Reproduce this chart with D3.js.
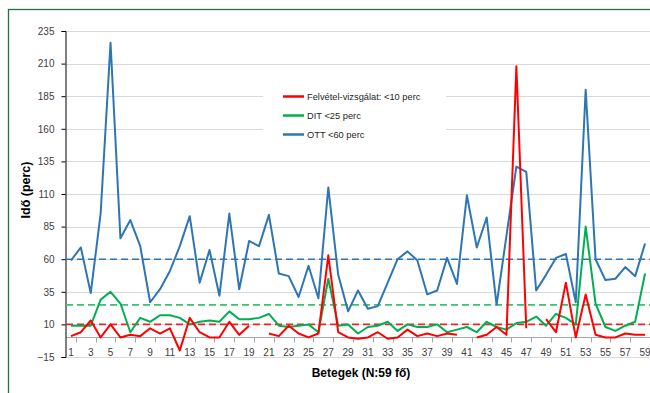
<!DOCTYPE html>
<html>
<head>
<meta charset="utf-8">
<script src="https://cdn.jsdelivr.net/npm/d3@7"></script>
<style>
  body { margin: 0; background: #fff; }
  svg text { font-family: "Liberation Sans", Arial, sans-serif; }
</style>
</head>
<body>
<div id="chart"></div>
<script>
// betegek sorszama 1..59
var categories = d3.range(1, 60);

var felvetel = [1, 4, 13, 0, 10, 0, 2, 1, 7, 3,
                7, -10, 15, 4, 0, 0, 12, 2, 9, null,
                3, 1, 9, 3, 0, 3, 63, 4, 0, -1,
                0, 4, -1, 0, 6, 1, 3, 1, 3, 2,
                null, 0, 2, 8, 2, 208, 7, null, 14, 4,
                42, 0, 33, 2, 0, 0, 3, 2, 2];

var dit = [9, 9, 9, 29, 35, 26, 4, 15, 12, 17,
           17, 15, 10, 12, 13, 12, 20, 14, 14, 15,
           18, 9, 8, 9, 10, 4, 45, 9, 10, 3,
           8, 9, 12, 5, 10, 8, 8, 10, 4, 6,
           8, 4, 12, 8, 6, 11, 12, 16, 9, 18,
           15, 10, 85, 26, 8, 5, 9, 12, 49];

var ott = [59, 69, 34, 95, 226, 76, 90, 70, 27, 37,
           51, 70, 93, 42, 67, 32, 95, 37, 74, 70,
           94, 49, 47, 31, 55, 30, 115, 48, 20, 36,
           22, 24, 42, 60, 66, 59, 33, 36, 61, 41,
           109, 69, 92, 25, 78, 131, 127, 36, 48, 61,
           64, 27, 190, 60, 44, 45, 54, 47, 72];

// celertekek (szaggatott vonalak)
var limits = [10, 25, 60];

var seriesNames = ["Felvétel-vizsgálat: <10 perc", "DIT <25 perc", "OTT <60 perc"];
var colors = ["#ff0000", "#00b050", "#2e75b6"];
var dashColors = ["#e8262a", "#3ac46c", "#2e75b6"];

var yTicks = [-15, 10, 35, 60, 85, 110, 135, 160, 185, 210, 235];
var xLabels = categories.filter(function(d) { return d % 2 === 1; });

function init () {
    var w = 650;
    var h = 393;
    var left = 66, right = 650, top = 31, bottom = 357;

    var svg = d3.select("#chart")
                .append("svg")
                .attr("width", w)
                .attr("height", h);

    // keret
    svg.append("rect")
        .attr("x", 8.5).attr("y", 9.5)
        .attr("width", 700).attr("height", 420)
        .attr("fill", "none")
        .attr("stroke", "#217346")
        .attr("stroke-width", 1.3);

    var xScale = d3.scaleBand()
                .domain(categories)
                .range([left, right]);

    var yScale = d3.scaleLinear()
                .domain([-15, 235])
                .range([bottom, top]);

    var cx = function(d) { return xScale(d) + xScale.bandwidth() / 2; };

    // racsvonalak
    svg.append("g")
        .selectAll("line")
        .data(yTicks)
        .enter()
        .append("line")
        .attr("x1", left).attr("x2", right)
        .attr("y1", function(d) { return Math.round(yScale(d)) + 0.5; })
        .attr("y2", function(d) { return Math.round(yScale(d)) + 0.5; })
        .attr("stroke", "#d9d9d9")
        .attr("stroke-width", 1);

    // x tengely a 0-nal
    var xAxis = d3.axisBottom(xScale)
                .tickValues(xLabels)
                .tickSize(0)
                .tickPadding(11);

    var gx = svg.append("g")
        .attr("transform", "translate(0," + (Math.round(yScale(0)) + 0.5) + ")")
        .call(xAxis);
    gx.select(".domain").attr("stroke", "#a6a6a6").attr("d", "M" + left + ",0H" + right);
    gx.selectAll("text").attr("font-size", 10).attr("fill", "#404040").attr("font-family", "Liberation Sans, Arial");

    gx.selectAll(".minor")
        .data(categories.filter(function(d) { return d % 2 === 0; }))
        .enter()
        .append("line")
        .attr("class", "minor")
        .attr("x1", function(d) { return Math.round(xScale(d)) + 0.5; })
        .attr("x2", function(d) { return Math.round(xScale(d)) + 0.5; })
        .attr("y1", 0).attr("y2", 5)
        .attr("stroke", "#a6a6a6");

    var yAxis = d3.axisLeft(yScale)
                .tickValues(yTicks)
                .tickSize(4)
                .tickPadding(7);

    var gy = svg.append("g")
        .attr("transform", "translate(" + (left - 0.5) + ",0)")
        .call(yAxis);
    gy.select(".domain").attr("stroke", "#000");
    gy.selectAll(".tick line").attr("stroke", "#000");
    gy.selectAll("text").attr("font-size", 10).attr("fill", "#404040").attr("font-family", "Liberation Sans, Arial");

    // szaggatott celvonalak
    svg.append("g")
        .selectAll("line")
        .data(limits)
        .enter()
        .append("line")
        .attr("x1", left).attr("x2", right)
        .attr("y1", function(d) { return yScale(d); })
        .attr("y2", function(d) { return yScale(d); })
        .attr("stroke", function(d, i) { return dashColors[i]; })
        .attr("stroke-width", 1.6)
        .attr("stroke-dasharray", "7,4");

    var line = d3.line()
                .defined(function(d) { return d[1] !== null; })
                .x(function(d) { return cx(d[0]); })
                .y(function(d) { return yScale(d[1]); });

    var allSeries = [felvetel, dit, ott];
    // rajzolasi sorrend: kek alul, piros felul
    [2, 1, 0].forEach(function(k) {
        svg.append("path")
            .datum(categories.map(function(c, i) { return [c, allSeries[k][i]]; }))
            .attr("fill", "none")
            .attr("stroke", colors[k])
            .attr("stroke-width", 2)
            .attr("stroke-linejoin", "round")
            .attr("d", line);
    });

    // jelmagyarazat
    svg.append("rect")
        .attr("x", 263).attr("y", 72)
        .attr("width", 183).attr("height", 80)
        .attr("fill", "#fff");

    var legend = svg.append("g")
        .selectAll("g")
        .data(seriesNames)
        .enter()
        .append("g")
        .attr("transform", function(d, i) { return "translate(283," + (96.5 + i * 19) + ")"; });

    legend.append("line")
        .attr("x1", 0).attr("x2", 21)
        .attr("stroke", function(d, i) { return colors[i]; })
        .attr("stroke-width", 2.5);

    legend.append("text")
        .attr("x", 24)
        .attr("dy", "0.35em")
        .attr("font-size", 9.3)
        .attr("font-family", "Liberation Sans Narrow, Liberation Sans, Arial")
        .attr("fill", "#262626")
        .text(function(d) { return d; });

    // tengelycimek
    svg.append("text")
        .attr("x", 361).attr("y", 377)
        .attr("text-anchor", "middle")
        .attr("font-size", 12)
        .attr("font-weight", "bold")
        .attr("font-family", "Liberation Sans Narrow, Liberation Sans, Arial")
        .attr("fill", "#000")
        .text("Betegek (N:59 fő)");

    svg.append("text")
        .attr("transform", "translate(30,190) rotate(-90)")
        .attr("text-anchor", "middle")
        .attr("font-size", 12.5)
        .attr("font-weight", "bold")
        .attr("font-family", "Liberation Sans Narrow, Liberation Sans, Arial")
        .attr("fill", "#000")
        .text("Idő (perc)");
}
window.onload = init;
</script>
</body>
</html>
